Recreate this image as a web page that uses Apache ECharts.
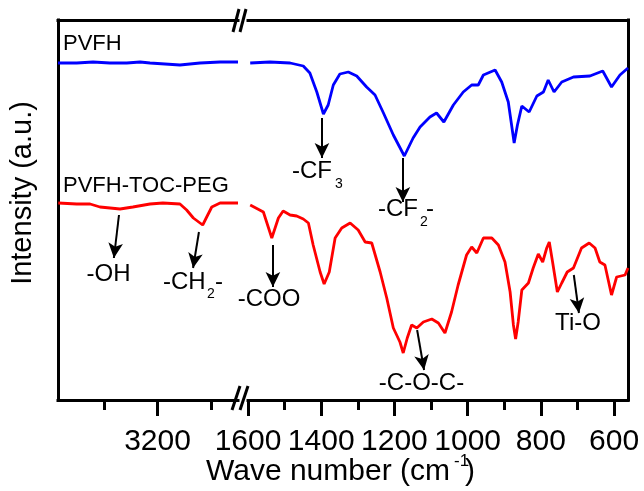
<!DOCTYPE html>
<html><head><meta charset="utf-8">
<script src="https://cdn.jsdelivr.net/npm/echarts@6/dist/echarts.min.js"></script>
<style>html,body{margin:0;padding:0;background:#fff}#c{width:644px;height:491px}</style>
</head><body><div id="c"></div>
<script>
// ---------- data (wavenumber in cm-1, intensity in a.u.) ----------
const pvfhLeftWn = [3572,3502,3441,3378,3315,3265,3228,3116,3041,2966,2899];
const pvfhLeftI  = [337,337,338,337,337,338,337,335,337,338,338];
const pvfhRightWn = [1594,1540,1485,1449,1431,1412,1394,1381,1367,1349,1326,1303,1276,1253,1230,1203,1173,1149,1130,1103,1085,1065,1039,1012,989,971,957,925,907,889,880,873,864,852,832,811,793,780,764,743,711,666,631,607,584,562];
const pvfhRightI  = [337,338,337,334,327,308,286,295,315,326,328,324,313,305,287,265,244,262,273,283,287,278,295,308,315,315,325,330,318,298,275,257,275,294,288,304,308,320,308,318,323,324,329,313,325,332];
const pegLeftWn = [3571,3502,3452,3415,3340,3292,3228,3180,3116,3091,3066,3031,3016,2997,2966,2899];
const pegLeftI  = [197,196,196,193,191,193,196,197,196,190,182,175,183,193,197,197];
const pegRightWn = [1594,1558,1535,1517,1504,1485,1467,1449,1435,1422,1403,1392,1378,1362,1344,1321,1299,1280,1262,1239,1221,1203,1185,1176,1165,1153,1139,1121,1098,1080,1062,1044,1026,1003,989,975,957,934,916,898,884,875,869,862,852,834,821,807,795,784,777,768,755,743,728,711,689,668,652,639,625,607,593,570,562];
const pegRightI  = [195,188,162,182,189,185,184,181,177,155,128,116,128,162,172,177,170,158,157,128,102,72,58,47,62,75,72,78,81,77,67,88,115,145,153,147,162,162,155,138,108,75,61,78,110,117,132,146,138,152,158,138,108,117,128,132,152,157,152,138,135,105,123,125,132];

// axis ranges and ticks
const leftRange = [2899, 3572];
const rightRange = [562, 1600];
const leftMajor = [3200];
const leftMinor = [3000, 3400];
const rightMajor = [600, 800, 1000, 1200, 1400, 1600];
const rightMinor = [700, 900, 1100, 1300, 1500];
const yRange = [0, 380];

// annotation arrows: [wn start, I start, wn end, I end]
const leftArrows = [[3344,185,3363,142],[3045,168,3067,132]];
const rightArrows = [[1398,282,1398,242],[1177,242,1177,198],[1532,155,1532,113],[1138,70,1119,30],[710,125,696,87]];

const zip = (a, b) => a.map((v, i) => [v, b[i]]);
const FONT = 'Arial, "Liberation Sans", sans-serif';
const BLUE = '#0000ff', RED = '#ff0000';

const chart = echarts.init(document.getElementById('c'), null, {renderer: 'canvas'});

const lineAx = {show: true, lineStyle: {color: '#000', width: 3, cap: 'square'}};
function xMain(grid, range, major) {
  return {gridIndex: grid, type: 'value', inverse: true, min: range[0], max: range[1], position: 'bottom',
    axisLine: lineAx, splitLine: {show: false},
    axisTick: {show: true, customValues: major, length: 16, inside: false, lineStyle: {color: '#000', width: 3}},
    axisLabel: {show: true, customValues: major, showMinLabel: true, showMaxLabel: true, hideOverlap: false,
      formatter: v => String(v), fontSize: 30, fontFamily: FONT, color: '#000', margin: 27}};
}
function xMinor(grid, range, minor) {
  return {gridIndex: grid, type: 'value', inverse: true, min: range[0], max: range[1], position: 'bottom',
    axisLine: {show: false}, splitLine: {show: false},
    axisTick: {show: true, customValues: minor, length: 10, lineStyle: {color: '#000', width: 3}},
    axisLabel: {show: false}};
}
function xTop(grid, range) {
  return {gridIndex: grid, type: 'value', inverse: true, min: range[0], max: range[1], position: 'top',
    axisLine: lineAx, splitLine: {show: false}, axisTick: {show: false}, axisLabel: {show: false}};
}
function yAx(grid, pos) {
  return {gridIndex: grid, type: 'value', min: yRange[0], max: yRange[1], position: pos,
    axisLine: lineAx, splitLine: {show: false}, axisTick: {show: false}, axisLabel: {show: false}};
}
function arrowMark(list) {
  return {silent: true, symbol: ['none', 'arrow'], symbolSize: [11, 15], animation: false,
    lineStyle: {color: '#000', width: 2, type: 'solid'}, label: {show: false},
    emphasis: {disabled: true},
    data: list.map(a => [{coord: [a[0], a[1]]}, {coord: [a[2], a[3]]}])};
}
function ser(xi, yi, data, color, mark) {
  const s = {type: 'line', xAxisIndex: xi, yAxisIndex: yi, data: data, symbol: 'none', showSymbol: false,
    lineStyle: {color: color, width: 2.8}, itemStyle: {color: color}, animation: false, silent: true};
  if (mark) s.markLine = mark;
  return s;
}
function txt(text, x, y, size, align, extra) {
  return Object.assign({type: 'text', x: x, y: y, silent: true, z: 100,
    style: {text: text, fontSize: size, fontFamily: FONT, fill: '#000', align: align || 'center', verticalAlign: 'middle'}}, extra || {});
}
function slash(x1, y1, x2, y2) {
  return {type: 'line', silent: true, z: 100, shape: {x1, y1, x2, y2}, style: {stroke: '#000', lineWidth: 3}};
}

chart.setOption({
  backgroundColor: '#fff',
  animation: false,
  grid: [{left: 58, top: 20, width: 180, height: 380}, {left: 248, top: 20, width: 380, height: 380}],
  xAxis: [xMain(0, leftRange, leftMajor), xMinor(0, leftRange, leftMinor), xTop(0, leftRange),
          xMain(1, rightRange, rightMajor), xMinor(1, rightRange, rightMinor), xTop(1, rightRange)],
  yAxis: [yAx(0, 'left'), yAx(1, 'right')],
  series: [
    ser(0, 0, zip(pvfhLeftWn, pvfhLeftI), BLUE),
    ser(0, 0, zip(pegLeftWn, pegLeftI), RED, arrowMark(leftArrows)),
    ser(3, 1, zip(pvfhRightWn, pvfhRightI), BLUE),
    ser(3, 1, zip(pegRightWn, pegRightI), RED, arrowMark(rightArrows))
  ],
  graphic: [
    slash(233, 32, 239, 9), slash(240, 32, 246, 9),
    slash(232, 410, 240, 386), slash(240, 410, 248, 386),
    txt('PVFH', 63, 44, 22, 'left'),
    txt('PVFH-TOC-PEG', 63, 186, 22, 'left'),
    txt('-CF', 292, 171, 24, 'left'), txt('3', 335, 184, 14, 'left'),
    txt('-CF', 378, 209, 24, 'left'), txt('2', 420, 222, 14, 'left'), txt('-', 426, 209, 24, 'left'),
    txt('-OH', 108.5, 274, 24),
    txt('-CH', 163, 282, 24, 'left'), txt('2', 207, 294, 14, 'left'), txt('-', 215, 282, 24, 'left'),
    txt('-COO', 269, 299, 24),
    txt('-C-O-C-', 421.5, 383, 24),
    txt('Ti-O', 578, 323, 24),
    txt('Wave number (cm', 206, 472, 30, 'left'), txt('-1', 454, 461, 17, 'left'), txt(')', 465, 472, 30, 'left'),
    txt('Intensity (a.u.)', 23, 193, 29, 'center', {rotation: Math.PI / 2})
  ]
});
</script></body></html>
